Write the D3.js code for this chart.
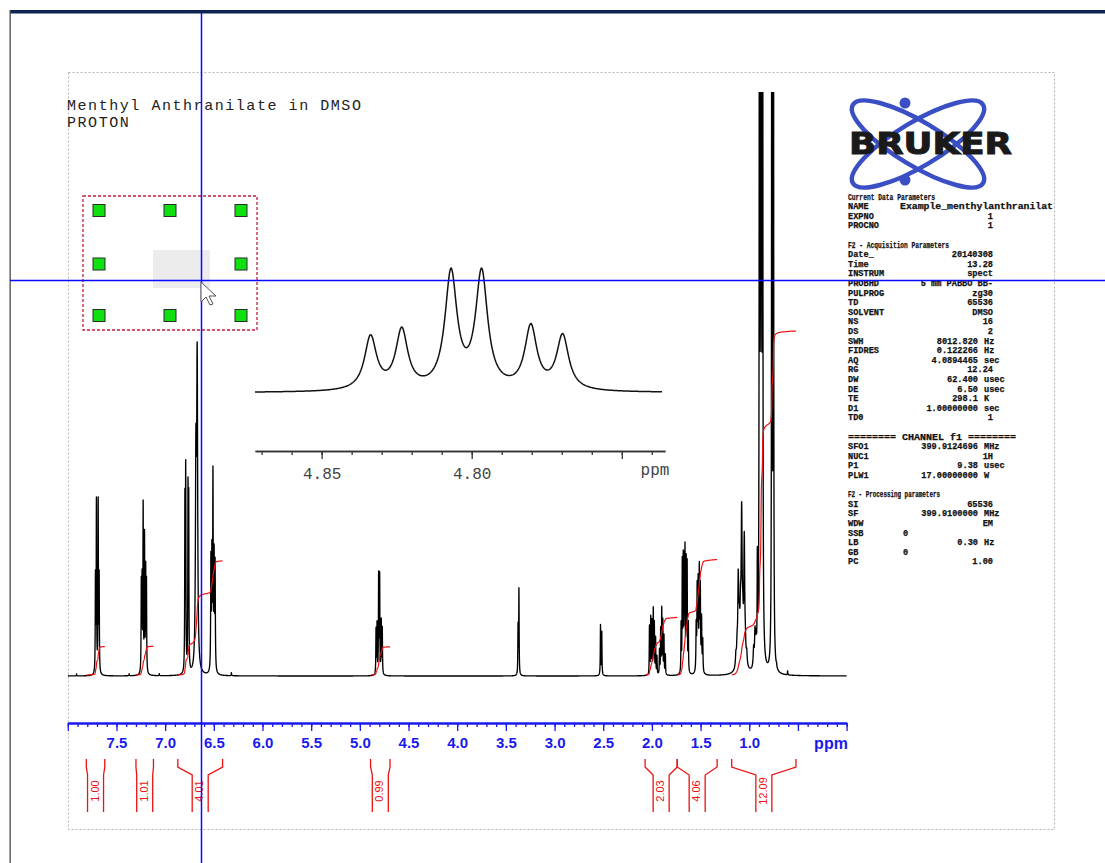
<!DOCTYPE html>
<meta charset="utf-8">
<style>
body { margin: 0; background: #fff; }
svg { display: block; }
</style>
<body>
<svg id="chart" width="1105" height="863"></svg>
<script src="https://cdn.jsdelivr.net/npm/d3@7"></script>
<script>

var width = 1105,
    height = 863;

// spectrum lines: position (ppm), height above baseline, linewidth factor
var peakPpm = [7.91, 7.37, 7.06, 6.32,
    7.716, 7.706, 7.688, 7.678,
    7.245, 7.237, 7.226, 7.212, 7.200, 7.192,
    6.797, 6.789, 6.765, 6.758,
    6.684, 6.671,
    6.530, 6.520, 6.509, 6.497, 6.487,
    4.8337, 4.8233, 4.8069, 4.7967, 4.7803, 4.7697,
    3.375, 3.366,
    2.528, 2.515,
    2.025, 2.012, 2.000, 1.986, 1.975, 1.962, 1.948, 1.922, 1.910, 1.899, 1.888, 1.876, 1.862,
    1.700, 1.688, 1.678, 1.668, 1.660, 1.648, 1.638, 1.626,
    1.545, 1.535, 1.525, 1.513, 1.503, 1.490, 1.478,
    1.137, 1.125, 1.113, 1.102, 1.090, 1.078, 1.066, 1.051, 1.040, 1.026, 1.080,
    0.955, 0.941, 0.930,
    0.917, 0.895, 0.880, 0.878, 0.863,
    0.768, 0.752, 0.72, 0.606];
var peakHeight = [2, 2, 2, 3,
    95, 170, 170, 95,
    88, 90, 165, 135, 100, 88,
    168, 198, 176, 165,
    200, 300,
    110, 112, 192, 110, 105,
    45, 50, 98, 98, 53, 46,
    48, 85,
    50, 43,
    48, 56, 52, 64, 50, 36, 18, 24, 44, 64, 52, 38, 20,
    48, 108, 110, 104, 116, 108, 106, 48,
    45, 80, 85, 98, 80, 52, 32,
    12, 18, 82, 30, 35, 130, 25, 120, 15, 12, 25,
    18, 32, 22,
    95, 1250, 1250, 1250, 1250,
    1200, 1200, 3, 4];
var peakBroad = [1, 1, 1, 1,
    1, 1, 1, 1,
    1, 1, 1, 1, 1, 1,
    1, 1, 1, 1,
    2.4, 2.4,
    1.2, 1.2, 1.2, 1.2, 1.2,
    1, 1, 1, 1, 1, 1,
    1, 1,
    1, 1,
    1, 1, 1, 1, 1, 1, 1, 1, 1, 1, 1, 1, 1,
    1, 1, 1, 1, 1, 1, 1, 1,
    1.3, 1.3, 1.3, 1.3, 1.3, 1.3, 1.3,
    2.2, 2.2, 2.2, 2.2, 2.2, 2.2, 2.2, 2.2, 2.2, 2.2, 10,
    2.2, 2.2, 2.2,
    1, 1, 1, 1, 1,
    1, 1, 1, 1];
var lineWidthPpm = 0.00486;

// integral regions
var integralFrom = [7.81, 7.30, 6.87, 4.89, 2.07, 1.74, 1.18];
var integralTo = [7.62, 7.12, 6.41, 4.69, 1.74, 1.33, 0.52];
var integralLabels = ["1.00", "1.01", "4.01", "0.99", "2.03", "4.06", "12.09"];

// axis ticks
var mainTickLabels = ["7.5", "7.0", "6.5", "6.0", "5.5", "5.0", "4.5", "4.0", "3.5", "3.0", "2.5", "2.0", "1.5", "1.0"];
var insetTickLabels = ["4.85", "4.80"];

// parameter listing
var paramLabels = ["Current Data Parameters", "NAME", "EXPNO", "PROCNO", "",
    "F2 - Acquisition Parameters", "Date_", "Time", "INSTRUM", "PROBHD", "PULPROG", "TD", "SOLVENT", "NS", "DS",
    "SWH", "FIDRES", "AQ", "RG", "DW", "DE", "TE", "D1", "TD0", "",
    "======== CHANNEL f1 ========", "SFO1", "NUC1", "P1", "PLW1", "",
    "F2 - Processing parameters", "SI", "SF", "WDW", "SSB", "LB", "GB", "PC"];
var paramValues = ["", "Example_menthylanthranilat", "1", "1", "",
    "", "20140308", "13.28", "spect", "5 mm PABBO BB-", "zg30", "65536", "DMSO", "16", "2",
    "8012.820", "0.122266", "4.0894465", "12.24", "62.400", "6.50", "298.1", "1.00000000", "1", "",
    "", "399.9124696", "1H", "9.38", "17.00000000", "",
    "", "65536", "399.9100000", "EM", "0", "0.30", "0", "1.00"];
var paramUnits = ["", "", "", "", "",
    "", "", "", "", "", "", "", "", "", "",
    "Hz", "Hz", "sec", "", "usec", "usec", "K", "sec", "", "",
    "", "MHz", "", "usec", "W", "",
    "", "", "MHz", "", "", "Hz", "", ""];

var svg = d3.select("#chart");

function intensity(p) {
    var s = 0;
    for (var i = 0; i < peakPpm.length; i++) {
        var hw = lineWidthPpm * peakBroad[i] / 2;
        var d = (p - peakPpm[i]) / hw;
        s += peakHeight[i] / (1 + d * d);
    }
    return s;
}

var x = d3.scaleLinear().domain([8, 0]).range([67.8, 846.6]);
var y = d3.scaleLinear().domain([0, 584]).range([676, 92]);

// window frame
svg.append("rect").attr("x", 10).attr("y", 10).attr("width", width - 10).attr("height", 3.5).attr("fill", "#0e2553");
svg.append("rect").attr("x", 9.5).attr("y", 10).attr("width", 1.3).attr("height", height - 10).attr("fill", "#4a4a4a");

// dashed plot frame
svg.append("rect")
    .attr("x", 68.5).attr("y", 72.5).attr("width", 986).attr("height", 757)
    .attr("fill", "none").attr("stroke", "#b4b4b4").attr("stroke-dasharray", "2,2");

// title
svg.append("text").attr("x", 67).attr("y", 110)
    .style("font", "15px 'Liberation Mono', monospace").style("letter-spacing", "1.55px").attr("fill", "#222")
    .text("Menthyl Anthranilate in DMSO");
svg.append("text").attr("x", 67).attr("y", 127)
    .style("font", "15px 'Liberation Mono', monospace").style("letter-spacing", "1.55px").attr("fill", "#222")
    .text("PROTON");

// spectrum
svg.append("clipPath").attr("id", "plotClip")
    .append("rect").attr("x", 60).attr("y", 92).attr("width", 790).attr("height", 620);

var samples = d3.range(0, 16001).map(function(i) {
    var p = 8 - i * 0.0005;
    return [p, intensity(p)];
});

var line = d3.line()
    .x(function(d) { return x(d[0]); })
    .y(function(d) { return y(d[1]); });

var plot = svg.append("g").attr("clip-path", "url(#plotClip)");
plot.append("path")
    .datum(samples)
    .attr("d", line)
    .attr("fill", "none")
    .attr("stroke", "#000")
    .attr("stroke-width", 1.35)
    .attr("stroke-linejoin", "round");

// integral curves
var unitPx = 28.45;
integralFrom.forEach(function(from, i) {
    var to = integralTo[i];
    var pts = samples.filter(function(d) { return d[0] <= from && d[0] >= to; });
    var total = d3.sum(pts, function(d) { return d[1]; });
    var scale = parseFloat(integralLabels[i]) * unitPx / total;
    var acc = 0;
    var curve = pts.map(function(d) {
        acc += d[1];
        return [x(d[0]), 675 - acc * scale];
    });
    plot.append("path")
        .datum(curve)
        .attr("d", d3.line())
        .attr("fill", "none")
        .attr("stroke", "#ee1111")
        .attr("stroke-width", 1.2);
});

// main axis
var axisBlue = "#1a1aee";
var majorTicks = d3.range(0, 17).map(function(i) { return i * 0.5; });
var minorTicks = d3.range(0, 81).map(function(i) { return i * 0.1; });

var axisG = svg.append("g").attr("transform", "translate(0,723)");
axisG.append("g")
    .call(d3.axisBottom(x).tickValues(minorTicks).tickSize(4).tickSizeOuter(0).tickFormat(""));
axisG.append("g")
    .call(d3.axisBottom(x).tickValues(majorTicks).tickSize(8).tickSizeOuter(0).tickPadding(6)
        .tickFormat(function(d) {
            var s = d.toFixed(1);
            return mainTickLabels.indexOf(s) >= 0 ? s : "";
        }));
axisG.selectAll("path.domain").attr("stroke", axisBlue).attr("stroke-width", 2);
axisG.selectAll(".tick line").attr("stroke", axisBlue).attr("stroke-width", 1.3);
axisG.selectAll(".tick text")
    .attr("fill", axisBlue)
    .style("font", "bold 15px 'Liberation Sans', Arial, sans-serif");
axisG.append("text").attr("x", 831).attr("y", 26).attr("text-anchor", "middle")
    .attr("fill", axisBlue)
    .style("font", "bold 16px 'Liberation Sans', Arial, sans-serif")
    .text("ppm");

// integral brackets and values
integralFrom.forEach(function(from, i) {
    var x0 = x(from), x1 = x(integralTo[i]);
    var c = (x0 + x1) / 2;
    var g = svg.append("g");
    [[x0, c - 8], [x1, c + 8]].forEach(function(pair) {
        g.append("path")
            .attr("d", "M" + pair[0] + ",759V767L" + pair[1] + ",775V812")
            .attr("fill", "none").attr("stroke", "#ee1111").attr("stroke-width", 1.3);
    });
    g.append("text")
        .attr("transform", "translate(" + (c - 1) + ",791) rotate(-90)")
        .attr("text-anchor", "middle")
        .attr("dominant-baseline", "central")
        .attr("fill", "#ee1111")
        .style("font", "11px 'Liberation Sans', Arial, sans-serif")
        .text(integralLabels[i]);
});

// expansion inset around 4.80 ppm
var xi = d3.scaleLinear().domain([4.8722, 4.7356]).range([255, 665]);
var yi = d3.scaleLinear().domain([0, 106]).range([392.7, 267.3]);
var insetSamples = d3.range(0, 684).map(function(i) {
    var p = 4.8722 - i * 0.0002;
    return [p, intensity(p)];
}).filter(function(d) { return xi(d[0]) <= 662; });

svg.append("path")
    .datum(insetSamples)
    .attr("d", d3.line().x(function(d) { return xi(d[0]); }).y(function(d) { return yi(d[1]); }))
    .attr("fill", "none").attr("stroke", "#111").attr("stroke-width", 1.5);

var insetMinor = d3.range(474, 488).map(function(i) { return i / 100; });
var insetMajor = [4.85, 4.80, 4.75];
var insetAxis = svg.append("g").attr("transform", "translate(0,451)");
insetAxis.append("g")
    .call(d3.axisBottom(xi).tickValues(insetMinor).tickSize(4).tickSizeOuter(0).tickFormat(""));
insetAxis.append("g")
    .call(d3.axisBottom(xi).tickValues(insetMajor).tickSize(8).tickSizeOuter(0).tickPadding(9)
        .tickFormat(function(d) {
            var s = d.toFixed(2);
            return insetTickLabels.indexOf(s) >= 0 ? s : "";
        }));
insetAxis.selectAll("path.domain").attr("stroke", "#333").attr("stroke-width", 1.5);
insetAxis.selectAll(".tick line").attr("stroke", "#333").attr("stroke-width", 1.3);
insetAxis.selectAll(".tick text").attr("fill", "#444")
    .style("font", "16px 'Liberation Mono', monospace");
insetAxis.append("text").attr("x", 655).attr("y", 24).attr("text-anchor", "middle")
    .attr("fill", "#444").style("font", "16px 'Liberation Mono', monospace").text("ppm");

// selection box with handles
svg.append("rect")
    .attr("x", 83).attr("y", 196).attr("width", 174).attr("height", 134)
    .attr("fill", "none").attr("stroke", "#c41e3a").attr("stroke-width", 1.3)
    .attr("stroke-dasharray", "3,2");
var handleX = [99, 170, 241], handleY = [210.5, 264, 315.5];
handleY.forEach(function(hy, r) {
    handleX.forEach(function(hx, c) {
        if (r === 1 && c === 1) return;
        svg.append("rect")
            .attr("x", hx - 6).attr("y", hy - 6).attr("width", 12).attr("height", 12)
            .attr("fill", "#10e010").attr("stroke", "#2a2a2a").attr("stroke-width", 1);
    });
});
svg.append("rect").attr("x", 153).attr("y", 250).attr("width", 57).attr("height", 38)
    .attr("fill", "#e9e9e9").attr("opacity", 0.85);

// Bruker logo
var logo = svg.append("g");
[31, -31].forEach(function(a) {
    logo.append("ellipse")
        .attr("cx", 0).attr("cy", 0).attr("rx", 76).attr("ry", 22)
        .attr("transform", "translate(918,144) rotate(" + a + ")")
        .attr("fill", "none").attr("stroke", "#3b4fc4").attr("stroke-width", 4.5);
});
logo.append("circle").attr("cx", 905).attr("cy", 103).attr("r", 5.5).attr("fill", "#3b4fc4");
logo.append("circle").attr("cx", 905).attr("cy", 180).attr("r", 5.5).attr("fill", "#3b4fc4");
logo.append("text").attr("x", 849).attr("y", 154)
    .attr("textLength", 163).attr("lengthAdjust", "spacingAndGlyphs")
    .attr("fill", "#1a1a1a").attr("stroke", "#1a1a1a").attr("stroke-width", 1)
    .style("font", "bold 30px 'DejaVu Sans', sans-serif")
    .text("BRUKER");

// parameter listing
var headerLength = { 0: 87, 5: 101, 25: 168, 31: 92 };
var params = svg.append("g")
    .style("font", "bold 8.6px 'Liberation Mono', monospace")
    .attr("fill", "#111").attr("stroke", "#111").attr("stroke-width", 0.25);
paramLabels.forEach(function(lab, i) {
    var yy = 199.5 + i * 9.6;
    if (!lab) return;
    var t = params.append("text").attr("x", 848).attr("y", yy).text(lab);
    if (headerLength[i]) t.attr("textLength", headerLength[i]).attr("lengthAdjust", "spacingAndGlyphs");
    var v = paramValues[i], u = paramUnits[i];
    if (!v) return;
    if (lab === "NAME") {
        params.append("text").attr("x", 900).attr("y", yy)
            .attr("textLength", 153).attr("lengthAdjust", "spacingAndGlyphs").text(v);
    } else if (lab === "SSB" || lab === "GB") {
        params.append("text").attr("x", 903).attr("y", yy).text(v);
    } else if (u) {
        params.append("text").attr("x", 978).attr("y", yy).attr("text-anchor", "end").text(v);
        params.append("text").attr("x", 984).attr("y", yy).text(u);
    } else {
        params.append("text").attr("x", 993).attr("y", yy).attr("text-anchor", "end").text(v);
    }
});

// cross-hair cursor
svg.append("line").attr("x1", 201.5).attr("x2", 201.5).attr("y1", 13).attr("y2", height)
    .attr("stroke", "#0a0aff").attr("stroke-width", 1.5);
svg.append("line").attr("x1", 10).attr("x2", width).attr("y1", 280.5).attr("y2", 280.5)
    .attr("stroke", "#0a0aff").attr("stroke-width", 1.5);
svg.append("path")
    .attr("d", "M201,282 V302 L206,297 L210,305 L213,304 L209,296 L216,296 Z")
    .attr("fill", "#fff").attr("stroke", "#555").attr("stroke-width", 1);

</script>
